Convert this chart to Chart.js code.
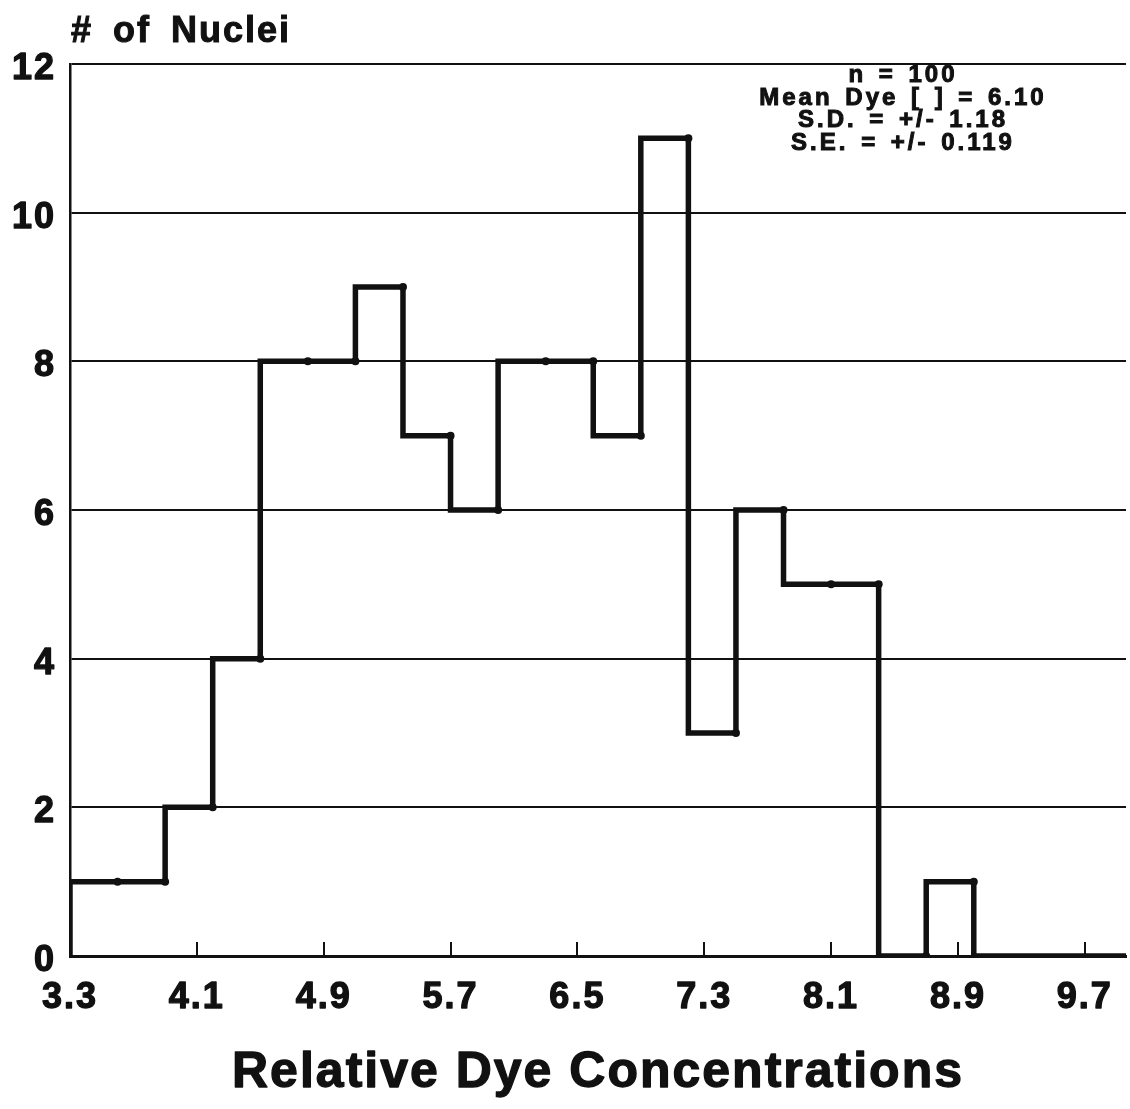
<!DOCTYPE html>
<html>
<head>
<meta charset="utf-8">
<title># of Nuclei</title>
<script src="https://cdn.jsdelivr.net/npm/chart.js@4.4.1/dist/chart.umd.min.js"></script>
<style>
  html, body { margin: 0; padding: 0; background: #fff; }
  #wrap { position: relative; width: 1130px; height: 1109px; overflow: hidden; }
  #wrap canvas { position: absolute; left: 0; top: 0; }
  .label {
    position: absolute;
    font-family: "Liberation Sans", Arial, Helvetica, sans-serif;
    font-weight: bold;
    color: #111;
    white-space: nowrap;
    -webkit-text-stroke: 1px #111;
  }
  #yTitle { left: 71px; top: 12px; font-size: 36px; line-height: 36px; letter-spacing: 2px; word-spacing: 8px; }
  #stats { left: 753px; width: 300px; top: 63px; font-size: 24px; line-height: 22.5px; letter-spacing: 3px; word-spacing: 3px; text-align: center; }
</style>
</head>
<body>
<div id="wrap">
  <canvas id="histogram" width="1130" height="1109"></canvas>
  <div class="label" id="yTitle"></div>
  <div class="label" id="stats"></div>
</div>
<script>
// histogram bins (left edge of each bin) and counts
const binEdges = [3.3, 3.6, 3.9, 4.2, 4.5, 4.8, 5.1, 5.4, 5.7, 6.0, 6.3, 6.6, 6.9, 7.2, 7.5, 7.8, 8.1, 8.4, 8.7, 9.0];
const nucleiCounts = [1, 1, 2, 4, 8, 8, 9, 7, 6, 8, 8, 7, 11, 3, 6, 5, 5, 0, 1, 0];
const xTickValues = [3.3, 4.1, 4.9, 5.7, 6.5, 7.3, 8.1, 8.9, 9.7];
const yTickValues = [0, 2, 4, 6, 8, 10, 12];
const statsLines = ["n = 100", "Mean Dye [ ] = 6.10", "S.D. = +/- 1.18", "S.E. = +/- 0.119"];
const yTitle = "# of Nuclei";
const xTitle = "Relative Dye Concentrations";

const X_MIN = 3.3;
const X_MAX = 9.96;
const INK = "#111";
const FONT = '"Liberation Sans", Arial, Helvetica, sans-serif';

document.getElementById("yTitle").textContent = yTitle;
document.getElementById("stats").innerHTML = statsLines.join("<br>");

// step outline: start on the baseline, one point per bin edge, run out to the axis end
const points = [{ x: binEdges[0], y: 0 }];
binEdges.forEach((edge, i) => points.push({ x: edge, y: nucleiCounts[i] }));
points.push({ x: X_MAX, y: nucleiCounts[nucleiCounts.length - 1] });

// the plotter left a small dot at the right end of each bin
const binEndDots = binEdges.slice(1).map((edge, i) => ({ x: edge, y: nucleiCounts[i] }));

// the printed labels are heavier than any bold face here, so outline the glyphs a little
const heavyText = {
  id: "heavyText",
  beforeDraw(chart) {
    const ctx = chart.ctx;
    ctx.letterSpacing = "2px";
    if (ctx._heavy) return;
    const fill = ctx.fillText;
    ctx.fillText = function (...args) {
      fill.apply(this, args);
      this.save();
      this.strokeStyle = this.fillStyle;
      this.lineWidth = 1.3;
      this.lineJoin = "round";
      this.strokeText(...args);
      this.restore();
    };
    ctx._heavy = true;
  }
};

Chart.defaults.font.family = FONT;
Chart.defaults.color = INK;

new Chart(document.getElementById("histogram"), {
  type: "line",
  data: {
    datasets: [{
      data: points,
      stepped: "before", // horizontal run first, then the vertical jump
      borderColor: INK,
      borderWidth: 5.5,
      borderJoinStyle: "miter",
      borderCapStyle: "butt",
      pointRadius: 0,
      fill: false,
    }, {
      data: binEndDots,
      showLine: false,
      pointRadius: 4,
      pointBackgroundColor: INK,
      pointBorderWidth: 0,
    }],
  },
  options: {
    responsive: false,
    animation: false,
    layout: { padding: { top: 64, left: 0, right: 0, bottom: 0 } },
    plugins: {
      legend: { display: false },
      tooltip: { enabled: false },
    },
    scales: {
      x: {
        type: "linear",
        min: X_MIN,
        max: X_MAX,
        afterBuildTicks: s => { s.ticks = xTickValues.map(v => ({ value: v })); },
        afterFit: s => {
          s.height = 153;
          s.paddingLeft = 0;
          s.paddingRight = 0;
        },
        ticks: {
          autoSkip: false,
          maxRotation: 0,
          padding: 34,
          color: INK,
          font: { size: 36, weight: "bold" },
          callback: v => Number(v).toFixed(1),
        },
        grid: {
          drawOnChartArea: false,
          drawTicks: true,
          tickLength: -14,
          color: INK,
          lineWidth: 2,
        },
        border: { display: true, color: INK, width: 3 },
        title: {
          display: true,
          text: xTitle,
          color: INK,
          font: { size: 50, weight: "bold" },
          padding: { top: 0, bottom: 6 },
        },
      },
      y: {
        min: 0,
        max: 12,
        afterBuildTicks: s => { s.ticks = yTickValues.map(v => ({ value: v })); },
        afterFit: s => { s.width = 70; },
        ticks: {
          padding: 14,
          labelOffset: 5,
          color: INK,
          font: { size: 36, weight: "bold" },
        },
        grid: { color: INK, lineWidth: 2, drawTicks: false },
        border: { display: true, color: INK, width: 2.5 },
      },
    },
  },
  plugins: [heavyText],
});
</script>
</body>
</html>
